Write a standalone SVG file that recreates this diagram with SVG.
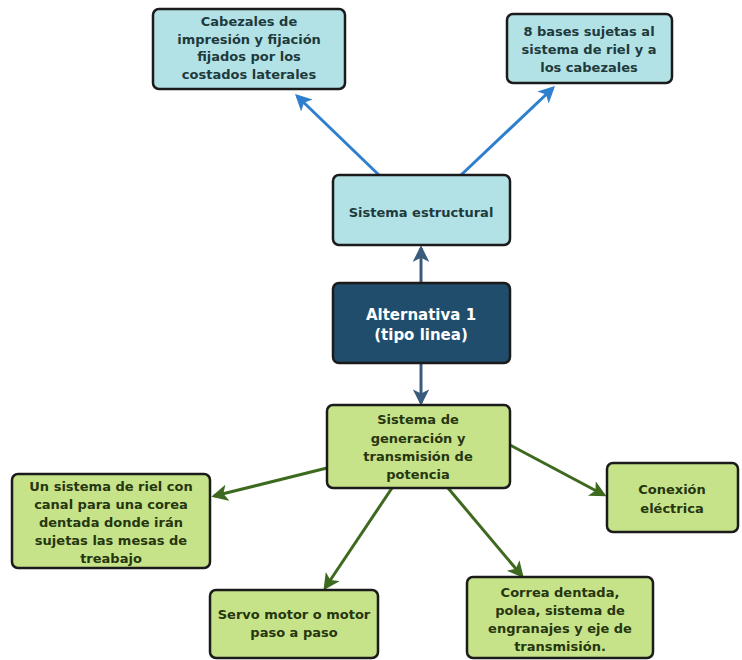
<svg xmlns="http://www.w3.org/2000/svg" width="742" height="660" viewBox="0 0 742 660">
<defs>
<style>
.box{stroke:#1b1b1b;stroke-width:2.5}
.blue{fill:#b3e2e6}
.green{fill:#c6e38a}
.dark{fill:#214d6d}
text{font-family:"DejaVu Sans","Liberation Sans",sans-serif;font-weight:bold;font-size:13px;text-anchor:middle}
.tb{fill:#1e3a3c}
.tg{fill:#26360f}
.tw{fill:#ffffff;font-size:15px}
.cb{stroke:#2f7fcf;stroke-width:3;fill:none}
.cn{stroke:#3a5c7c;stroke-width:3;fill:none}
.cg{stroke:#3d6a1e;stroke-width:3;fill:none}
</style>
<marker id="ab" viewBox="0 0 12 12" refX="10" refY="6" markerWidth="5.5" markerHeight="5.5" markerUnits="strokeWidth" orient="auto"><path d="M0,0 L12,6 L0,12 L3,6 Z" fill="#2f7fcf"/></marker>
<marker id="an" viewBox="0 0 12 12" refX="10" refY="6" markerWidth="5.5" markerHeight="5.5" markerUnits="strokeWidth" orient="auto"><path d="M0,0 L12,6 L0,12 L3,6 Z" fill="#3a5c7c"/></marker>
<marker id="ag" viewBox="0 0 12 12" refX="10" refY="6" markerWidth="5.5" markerHeight="5.5" markerUnits="strokeWidth" orient="auto"><path d="M0,0 L12,6 L0,12 L3,6 Z" fill="#3d6a1e"/></marker>
</defs>
<rect width="742" height="660" fill="#ffffff"/>
<g id="connectors">
<line class="cb" x1="380" y1="176" x2="297" y2="96" marker-end="url(#ab)"/>
<line class="cb" x1="460" y1="176" x2="553" y2="88" marker-end="url(#ab)"/>
<line class="cn" x1="421" y1="283" x2="421" y2="248" marker-end="url(#an)"/>
<line class="cn" x1="421" y1="363" x2="421" y2="403" marker-end="url(#an)"/>
<line class="cg" x1="327" y1="468" x2="214" y2="496" marker-end="url(#ag)"/>
<line class="cg" x1="510" y1="445" x2="604" y2="495" marker-end="url(#ag)"/>
<line class="cg" x1="392" y1="488" x2="325" y2="588" marker-end="url(#ag)"/>
<line class="cg" x1="448" y1="488" x2="522" y2="576" marker-end="url(#ag)"/>
</g>
<g id="cabezales">
<rect class="box blue" x="153" y="9" width="192" height="80" rx="6"/>
<text class="tb" x="249" y="26">Cabezales de</text>
<text class="tb" x="249" y="44">impresión y fijación</text>
<text class="tb" x="249" y="61">fijados por los</text>
<text class="tb" x="249" y="79">costados laterales</text>
</g>
<g id="bases">
<rect class="box blue" x="507" y="14" width="165" height="69" rx="6"/>
<text class="tb" x="589" y="36">8 bases sujetas al</text>
<text class="tb" x="589" y="54">sistema de riel y a</text>
<text class="tb" x="589" y="72">los cabezales</text>
</g>
<g id="estructural">
<rect class="box blue" x="333" y="175" width="177" height="70" rx="6"/>
<text class="tb" x="421" y="217">Sistema estructural</text>
</g>
<g id="alternativa">
<rect class="box dark" x="333" y="283" width="177" height="80" rx="6"/>
<text class="tw" x="421" y="320">Alternativa 1</text>
<text class="tw" x="421" y="340">(tipo linea)</text>
</g>
<g id="generacion">
<rect class="box green" x="327" y="405" width="183" height="83" rx="6"/>
<text class="tg" x="418" y="424">Sistema de</text>
<text class="tg" x="418" y="443">generación y</text>
<text class="tg" x="418" y="461">transmisión de</text>
<text class="tg" x="418" y="479">potencia</text>
</g>
<g id="riel">
<rect class="box green" x="12" y="474" width="198" height="94" rx="6"/>
<text class="tg" x="111" y="491">Un sistema de riel con</text>
<text class="tg" x="111" y="509">canal para una corea</text>
<text class="tg" x="111" y="527">dentada donde irán</text>
<text class="tg" x="111" y="545">sujetas las mesas de</text>
<text class="tg" x="111" y="563">treabajo</text>
</g>
<g id="conexion">
<rect class="box green" x="607" y="463" width="131" height="69" rx="6"/>
<text class="tg" x="672" y="494">Conexión</text>
<text class="tg" x="672" y="513">eléctrica</text>
</g>
<g id="servo">
<rect class="box green" x="210" y="590" width="168" height="68" rx="6"/>
<text class="tg" x="294" y="619">Servo motor o motor</text>
<text class="tg" x="294" y="637">paso a paso</text>
</g>
<g id="correa">
<rect class="box green" x="467" y="577" width="186" height="81" rx="6"/>
<text class="tg" x="560" y="597">Correa dentada,</text>
<text class="tg" x="560" y="615">polea, sistema de</text>
<text class="tg" x="560" y="633">engranajes y eje de</text>
<text class="tg" x="560" y="651">transmisión.</text>
</g>
</svg>
